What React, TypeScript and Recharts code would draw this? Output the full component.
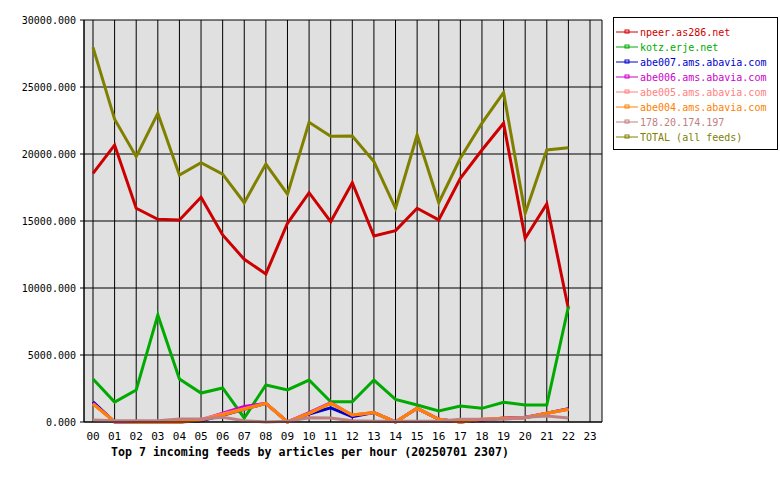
import { LineChart, Line, XAxis, YAxis, CartesianGrid } from "recharts";

const hours = [
  "00", "01", "02", "03", "04", "05", "06", "07", "08", "09", "10", "11",
  "12", "13", "14", "15", "16", "17", "18", "19", "20", "21", "22", "23",
];

// artikelen per uur, uur 23 nog leeg
const npeer = [
  18560, 20670, 15950, 15130, 15080, 16770, 13960, 12140, 11050, 14830, 17110, 14950,
  17860, 13880, 14280, 15950, 15080, 18190, 20300, 22290, 13710, 16270, 8450, null,
];
const kotz = [
  3210, 1490, 2390, 7990, 3210, 2160, 2540, 300, 2760, 2390, 3130, 1510,
  1510, 3130, 1690, 1270, 820, 1190, 1020, 1470, 1270, 1270, 8600, null,
];
const abe007 = [
  1500, 0, 0, 0, 0, 100, 500, 950, 1390, 0, 600, 1050,
  400, 700, 0, 1020, 200, 0, 150, 280, 320, 650, 1000, null,
];
const abe006 = [
  1400, 0, 0, 0, 0, 150, 650, 1150, 1400, 0, 700, 1450,
  500, 700, 0, 1020, 200, 0, 150, 300, 350, 650, 950, null,
];
const abe005 = [
  1350, 0, 0, 0, 0, 200, 600, 1000, 1390, 0, 650, 1400,
  520, 700, 0, 1020, 200, 0, 200, 280, 320, 650, 950, null,
];
const abe004 = [
  1340, 50, 0, 0, 0, 150, 520, 950, 1390, 0, 650, 1390,
  520, 700, 0, 1020, 200, 0, 200, 280, 320, 650, 950, null,
];
const ip178 = [
  150, 100, 100, 100, 220, 220, 350, 100, 0, 50, 320, 300,
  100, 50, 50, 50, 50, 200, 200, 200, 350, 450, 300, null,
];
const total = [
  27960, 22600, 19800, 23040, 18430, 19350, 18500, 16370, 19250, 17000, 22370, 21320,
  21340, 19430, 15950, 21420, 16370, 19680, 22300, 24580, 15570, 20300, 20470, null,
];

const yTicks = [0, 5000, 10000, 15000, 20000, 25000, 30000];

const series = [
  { key: "npeer", name: "npeer.as286.net", color: "#cc0000", values: npeer },
  { key: "kotz", name: "kotz.erje.net", color: "#00aa00", values: kotz },
  { key: "abe007", name: "abe007.ams.abavia.com", color: "#0000cc", values: abe007 },
  { key: "abe006", name: "abe006.ams.abavia.com", color: "#cc00cc", values: abe006 },
  { key: "abe005", name: "abe005.ams.abavia.com", color: "#ff8080", values: abe005 },
  { key: "abe004", name: "abe004.ams.abavia.com", color: "#ff8000", values: abe004 },
  { key: "ip178", name: "178.20.174.197", color: "#c08080", values: ip178 },
  { key: "total", name: "TOTAL (all feeds)", color: "#808000", values: total },
];

const data = hours.map((h, i) => {
  const row: Record<string, string | number | null> = { hour: h };
  for (const s of series) row[s.key] = s.values[i];
  return row;
});

const mono = "'DejaVu Sans Mono', monospace";

export default function App() {
  return (
    <div style={{ position: "fixed", left: 0, top: 0, width: 780, height: 480, background: "#fff" }}>
      <LineChart
        width={780}
        height={480}
        data={data}
        margin={{ top: 20, right: 178, bottom: 28, left: 0 }}
      >
        <CartesianGrid stroke="#000" strokeWidth={1} fill="#e0e0e0" fillOpacity={1} />
        <XAxis
          dataKey="hour"
          padding={{ left: 9, right: 12 }}
          interval={0}
          tickLine={false}
          axisLine={{ stroke: "#000" }}
          tick={{ fontSize: 11, fill: "#000", fontFamily: mono }}
          tickMargin={4}
          height={30}
        />
        <YAxis
          domain={[0, 30000]}
          ticks={yTicks}
          interval={0}
          width={84}
          tickFormatter={(v) => Number(v).toFixed(3)}
          tick={{ fontSize: 10, fill: "#000", fontFamily: mono }}
          tickSize={4}
          tickMargin={4}
          tickLine={{ stroke: "#000" }}
          axisLine={{ stroke: "#000" }}
        />
        <YAxis
          yAxisId="edge"
          orientation="right"
          width={0}
          tick={false}
          tickLine={false}
          axisLine={{ stroke: "#000" }}
        />
        {series.map((s) => (
          <Line
            key={s.key}
            dataKey={s.key}
            type="linear"
            stroke={s.color}
            strokeWidth={3}
            dot={false}
            activeDot={false}
            isAnimationActive={false}
            strokeLinejoin="miter"
          />
        ))}
      </LineChart>

      <div
        style={{
          position: "absolute",
          left: 613,
          top: 17,
          width: 163,
          height: 131,
          border: "1px solid #000",
          background: "#fff",
          fontFamily: mono,
          fontSize: 10,
        }}
      >
        {series.map((s, i) => (
          <div
            key={s.key}
            style={{
              position: "absolute",
              left: 2,
              top: 8 + i * 15,
              display: "flex",
              alignItems: "center",
              height: 12,
              color: s.color,
              whiteSpace: "nowrap",
            }}
          >
            <svg width={22} height={12} style={{ marginRight: 2 }}>
              <line x1={0} y1={6} x2={22} y2={6} stroke={s.color} strokeWidth={1} />
              <rect x={9} y={4} width={4} height={3} fill="none" stroke={s.color} strokeWidth={1} />
            </svg>
            <span>{s.name}</span>
          </div>
        ))}
      </div>

      <div
        style={{
          position: "absolute",
          left: 111,
          top: 445,
          fontFamily: mono,
          fontSize: 11.6,
          fontWeight: "bold",
          whiteSpace: "nowrap",
          color: "#000",
        }}
      >
        Top 7 incoming feeds by articles per hour (20250701 2307)
      </div>
    </div>
  );
}
